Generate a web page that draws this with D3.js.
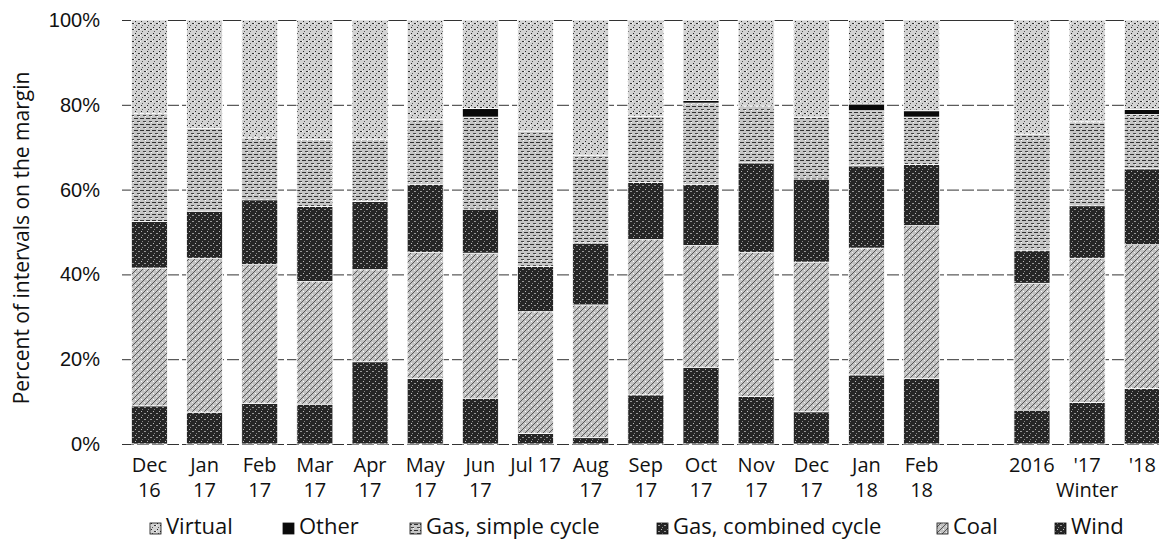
<!DOCTYPE html>
<meta charset="utf-8">
<style>
  body { margin: 0; background: #fff; }
  svg { display: block; font-family: "Open Sans", sans-serif; }
  .tick text { font-size: 20px; fill: #111; }
</style>
<body>
<script src="https://d3js.org/d3.v7.min.js"></script>
<script>
// months plus the three winter averages, with an empty slot between them
var months  = ["Dec 16", "Jan 17", "Feb 17", "Mar 17", "Apr 17", "May 17", "Jun 17", "Jul 17", "Aug 17",
               "Sep 17", "Oct 17", "Nov 17", "Dec 17", "Jan 18", "Feb 18", "gap", "2016", "'17", "'18"];
var line1   = ["Dec", "Jan", "Feb", "Mar", "Apr", "May", "Jun", "Jul 17", "Aug",
               "Sep", "Oct", "Nov", "Dec", "Jan", "Feb", "", "2016", "'17", "'18"];
var line2   = ["16", "17", "17", "17", "17", "17", "17", "", "17",
               "17", "17", "17", "17", "18", "18", "", "", "Winter", ""];

// share of intervals on the margin, %
var wind    = [9.0, 7.5, 9.6, 9.4, 19.4, 15.5, 10.8, 2.5, 1.5, 11.6, 18.1, 11.2, 7.6, 16.3, 15.5, 0, 8.0, 9.8, 13.1];
var coal    = [32.5, 36.3, 32.7, 28.9, 21.7, 29.7, 34.2, 28.7, 31.3, 36.6, 28.7, 34.0, 35.3, 29.9, 36.0, 0, 29.9, 34.0, 33.9];
var gasCC   = [11.0, 11.1, 15.3, 17.7, 16.1, 16.0, 10.4, 10.7, 14.6, 13.5, 14.4, 21.1, 19.6, 19.4, 14.4, 0, 7.7, 12.4, 17.9];
var gasSC   = [25.4, 19.5, 14.6, 15.8, 14.7, 15.3, 21.7, 31.9, 20.7, 15.6, 19.2, 13.4, 14.6, 13.0, 11.2, 0, 27.5, 19.8, 12.8];
var other   = [0, 0, 0, 0, 0, 0, 2.0, 0, 0, 0, 0.6, 0, 0, 1.6, 1.5, 0, 0, 0, 1.2];
var virtual = [22.1, 25.6, 27.8, 28.2, 28.1, 23.5, 20.9, 26.2, 31.9, 22.7, 19.0, 20.3, 22.9, 19.8, 21.4, 0, 26.9, 24.0, 21.1];

var yTicks  = [0, 20, 40, 60, 80, 100];

// stack order bottom -> top, legend runs top -> bottom
var keys    = ["Wind", "Coal", "Gas, combined cycle", "Gas, simple cycle", "Other", "Virtual"];
var series  = [wind, coal, gasCC, gasSC, other, virtual];
var legendKeys = ["Virtual", "Other", "Gas, simple cycle", "Gas, combined cycle", "Coal", "Wind"];

var data = months.map(function(m, i){
  var row = {month: m};
  keys.forEach(function(k, j){ row[k] = series[j][i]; });
  return row;
});

var W = 1159, H = 539;
var margin = {top: 20, left: 122};
var plotH = 424;

var svg = d3.select("body").append("svg")
  .attr("width", W)
  .attr("height", H);

// scanned-looking fills
var defs = svg.append("defs");
function pat(id, bg, draw){
  var p = defs.append("pattern").attr("id", id)
    .attr("patternUnits", "userSpaceOnUse").attr("width", 6).attr("height", 6);
  p.append("rect").attr("width", 6).attr("height", 6).attr("fill", bg);
  draw(p);
}
pat("p-virtual", "#d2d2d2", function(p){
  p.append("rect").attr("x", 1).attr("y", 1).attr("width", 1).attr("height", 1).attr("fill", "#222");
  p.append("rect").attr("x", 4).attr("y", 3).attr("width", 2).attr("height", 1).attr("fill", "#333");
  p.append("rect").attr("x", 2).attr("y", 5).attr("width", 1).attr("height", 1).attr("fill", "#555");
  p.append("rect").attr("x", 0).attr("y", 3).attr("width", 1).attr("height", 1).attr("fill", "#fff");
});
pat("p-gassc", "#c6c6c6", function(p){
  p.append("rect").attr("x", 0).attr("y", 2).attr("width", 4).attr("height", 1).attr("fill", "#333");
  p.append("rect").attr("x", 3).attr("y", 5).attr("width", 3).attr("height", 1).attr("fill", "#444");
  p.append("rect").attr("x", 5).attr("y", 0).attr("width", 1).attr("height", 1).attr("fill", "#fff");
});
pat("p-coal", "#c2c2c2", function(p){
  p.append("path").attr("d", "M0,6L6,0").attr("stroke", "#3a3a3a").attr("stroke-width", 0.8);
  p.append("rect").attr("x", 1).attr("y", 1).attr("width", 1).attr("height", 1).attr("fill", "#fff");
  p.append("rect").attr("x", 4).attr("y", 4).attr("width", 1).attr("height", 1).attr("fill", "#eee");
});
pat("p-dark", "#262626", function(p){
  p.append("rect").attr("x", 1).attr("y", 1).attr("width", 1).attr("height", 1).attr("fill", "#bbb");
  p.append("rect").attr("x", 4).attr("y", 3).attr("width", 2).attr("height", 1).attr("fill", "#999");
  p.append("rect").attr("x", 2).attr("y", 5).attr("width", 1).attr("height", 1).attr("fill", "#888");
});

var fills = {
  "Virtual": "url(#p-virtual)",
  "Other": "#0a0a0a",
  "Gas, simple cycle": "url(#p-gassc)",
  "Gas, combined cycle": "url(#p-dark)",
  "Coal": "url(#p-coal)",
  "Wind": "url(#p-dark)"
};

var x = d3.scaleBand()
  .domain(months)
  .range([0, 19 * 55.14])
  .paddingInner(0.347)
  .paddingOuter(0.17);

var y = d3.scaleLinear()
  .domain([0, 100])
  .range([plotH, 0]);

var chart = svg.append("g")
  .attr("transform", "translate(" + margin.left + "," + margin.top + ")");

// gridlines + y labels
var yAxis = chart.append("g")
  .call(d3.axisLeft(y)
    .tickValues(yTicks)
    .tickSize(-(x.range()[1]))
    .tickPadding(22)
    .tickFormat(function(d){ return d + "%"; }));
yAxis.select(".domain").remove();
yAxis.selectAll(".tick line")
  .attr("stroke", "#333")
  .attr("stroke-width", 1)
  .attr("stroke-dasharray", function(d){ return d == 100 ? null : "12,3"; });

// stacked bars
var stacked = d3.stack().keys(keys)(data);

chart.selectAll(".layer")
  .data(stacked)
  .enter().append("g")
    .attr("class", "layer")
    .attr("fill", function(d){ return fills[d.key]; })
  .selectAll("rect")
  .data(function(d){ return d.filter(function(s){ return s[1] - s[0] > 0; }); })
  .enter().append("rect")
    .attr("x", function(d){ return x(d.data.month); })
    .attr("width", x.bandwidth())
    .attr("y", function(d){ return y(d[1]); })
    .attr("height", function(d){ return y(d[0]) - y(d[1]); })
    .attr("stroke", "#fff")
    .attr("stroke-width", 0.8);

// x labels, two lines
var xl = chart.append("g").attr("font-size", 20).attr("fill", "#111").attr("text-anchor", "middle");
months.forEach(function(m, i){
  var cx = x(m) + x.bandwidth() / 2;
  xl.append("text").attr("x", cx).attr("y", 452).text(line1[i]);
  xl.append("text").attr("x", cx).attr("y", 477).text(line2[i]);
});

// y title
svg.append("text")
  .attr("transform", "translate(29," + (margin.top + plotH / 2 + 6) + ") rotate(-90)")
  .attr("text-anchor", "middle")
  .attr("font-size", 21)
  .attr("fill", "#111")
  .text("Percent of intervals on the margin");

// legend
var legendX = [150, 283, 410, 657, 937, 1055];
var lg = svg.append("g").attr("transform", "translate(0,522)");
legendKeys.forEach(function(k, i){
  lg.append("rect")
    .attr("x", legendX[i]).attr("y", 1)
    .attr("width", 11).attr("height", 11)
    .attr("fill", fills[k])
    .attr("stroke", "#111").attr("stroke-width", 0.8);
  lg.append("text")
    .attr("x", legendX[i] + 16).attr("y", 12)
    .attr("font-size", 22)
    .attr("fill", "#111")
    .text(k);
});
</script>
</body>
